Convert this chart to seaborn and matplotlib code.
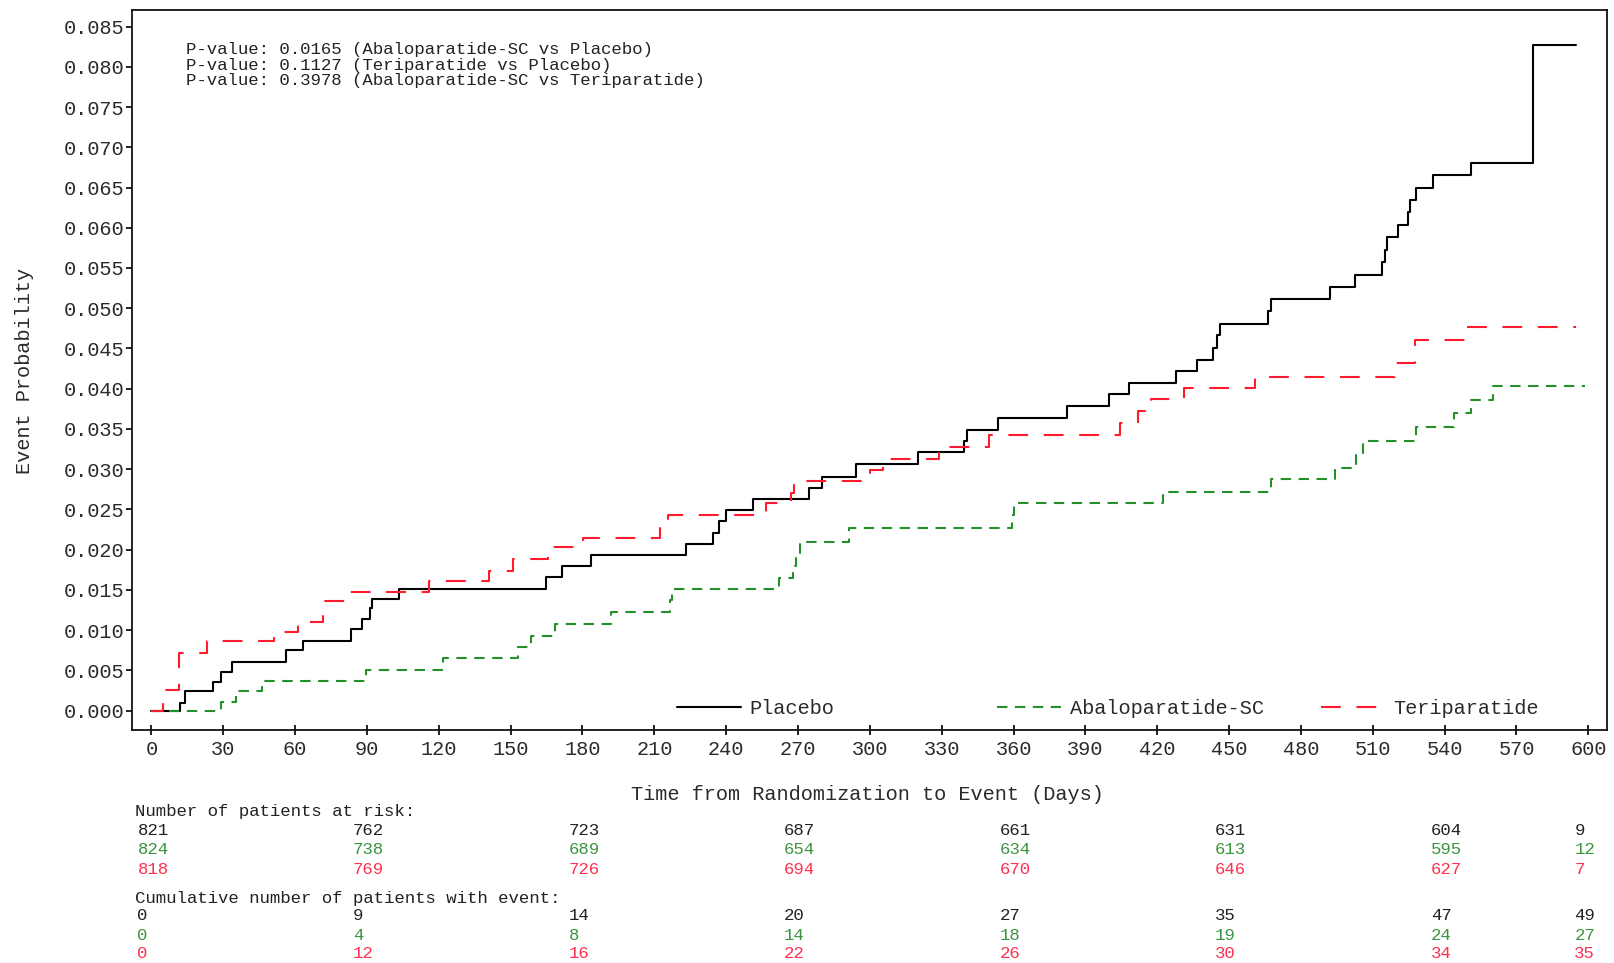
import numpy as np
import pandas as pd
import matplotlib
matplotlib.use("Agg")
import matplotlib.pyplot as plt
import seaborn as sns

# ---------------- data ----------------
placebo_days = [0, 12.1, 14.2, 25.8, 28.9, 33.7, 56.0, 63.3, 83.2, 88.0, 91.2, 92.0,
                103.3, 164.7, 171.3, 183.4, 223.3, 234.4, 236.9, 240.0, 251.0, 274.4,
                279.9, 294.4, 320.0, 339.2, 340.6, 353.5, 382.4, 399.8, 408.0, 427.8,
                436.7, 443.1, 444.8, 446.2, 466.3, 467.3, 492.1, 502.4, 513.7, 515.3,
                516.0, 520.6, 524.8, 525.5, 528.0, 535.2, 551.2, 576.7, 594.8]
placebo_prob = [0.0, 0.0010, 0.0024, 0.0036, 0.0048, 0.0061, 0.0075, 0.0087, 0.0101,
                0.0114, 0.0127, 0.0139, 0.0151, 0.0166, 0.0180, 0.0193, 0.0207, 0.0221,
                0.0235, 0.0249, 0.0263, 0.0276, 0.0290, 0.0306, 0.0321, 0.0335, 0.0349,
                0.0364, 0.0379, 0.0394, 0.0407, 0.0422, 0.0436, 0.0450, 0.0467, 0.0481,
                0.0496, 0.0512, 0.0527, 0.0541, 0.0557, 0.0572, 0.0588, 0.0603, 0.0619,
                0.0635, 0.0650, 0.0666, 0.0681, 0.0827, 0.0827]

abalo_days = [0, 28.9, 35.3, 46.2, 89.8, 121.6, 153.0, 158.3, 168.5, 191.9, 216.5,
              217.5, 262.0, 268.0, 269.0, 271.0, 291.3, 359.2, 360.0, 422.6, 467.6,
              494.2, 503.2, 506.0, 527.9, 543.9, 551.2, 560.0, 598.6]
abalo_prob = [0.0, 0.0011, 0.0024, 0.0037, 0.0050, 0.0065, 0.0079, 0.0093, 0.0108,
              0.0122, 0.0137, 0.0151, 0.0165, 0.0180, 0.0196, 0.0210, 0.0227, 0.0243,
              0.0258, 0.0272, 0.0288, 0.0302, 0.0318, 0.0335, 0.0353, 0.0370, 0.0386,
              0.0403, 0.0403]

teri_days = [0, 5.0, 11.6, 23.4, 51.4, 61.4, 71.6, 82.5, 116.0, 140.8, 151.0, 165.6,
             180.3, 212.3, 215.7, 256.8, 267.0, 268.5, 300.0, 305.5, 328.8, 349.6,
             404.5, 412.0, 417.5, 431.3, 460.8, 519.2, 527.6, 548.9, 594.8]
teri_prob = [0.0, 0.0025, 0.0072, 0.0086, 0.0098, 0.0110, 0.0136, 0.0148, 0.0161,
             0.0174, 0.0188, 0.0203, 0.0215, 0.0230, 0.0243, 0.0258, 0.0271, 0.0285,
             0.0299, 0.0313, 0.0327, 0.0342, 0.0358, 0.0372, 0.0387, 0.0401, 0.0414,
             0.0432, 0.0460, 0.0477, 0.0477]

group_names = ["Placebo", "Abaloparatide-SC", "Teriparatide"]

risk_times = [0, 90, 180, 270, 360, 450, 540, 600]
placebo_at_risk = [821, 762, 723, 687, 661, 631, 604, 9]
abalo_at_risk = [824, 738, 689, 654, 634, 613, 595, 12]
teri_at_risk = [818, 769, 726, 694, 670, 646, 627, 7]
placebo_cum_events = [0, 9, 14, 20, 27, 35, 47, 49]
abalo_cum_events = [0, 4, 8, 14, 18, 19, 24, 27]
teri_cum_events = [0, 12, 16, 22, 26, 30, 34, 35]

x_ticks = list(range(0, 601, 30))
y_ticks = [0.000, 0.005, 0.010, 0.015, 0.020, 0.025, 0.030, 0.035, 0.040,
           0.045, 0.050, 0.055, 0.060, 0.065, 0.070, 0.075, 0.080, 0.085]

p_value_lines = ["P-value: 0.0165 (Abaloparatide-SC vs Placebo)",
                 "P-value: 0.1127 (Teriparatide vs Placebo)",
                 "P-value: 0.3978 (Abaloparatide-SC vs Teriparatide)"]

x_label = "Time from Randomization to Event (Days)"
y_label = "Event Probability"
risk_header = "Number of patients at risk:"
cum_header = "Cumulative number of patients with event:"

# ---------------- styling ----------------
sns.set_style("ticks")
plt.rcParams["font.family"] = ["Liberation Mono", "DejaVu Sans Mono"]

col_black = "#000000"
col_green = "#23902A"
col_red = "#FF1A2E"
txt_green = "#3C9440"
txt_red = "#FF3050"
tick_col = "#2A2A2A"

fig = plt.figure(figsize=(16.15, 9.63), dpi=100)
ax = fig.add_axes([132 / 1615, 1 - 730 / 963, 1475 / 1615, 720 / 963])

curves = pd.concat([
    pd.DataFrame({"days": placebo_days, "prob": placebo_prob, "group": group_names[0]}),
    pd.DataFrame({"days": abalo_days, "prob": abalo_prob, "group": group_names[1]}),
    pd.DataFrame({"days": teri_days, "prob": teri_prob, "group": group_names[2]}),
], ignore_index=True)

styles = {
    group_names[0]: dict(color=col_black, linestyle="-"),
    group_names[1]: dict(color=col_green, linestyle=(0, (5.0, 3.6))),
    group_names[2]: dict(color=col_red, linestyle=(0, (9.5, 7.5))),
}

handles = []
for g in group_names:
    sub = curves[curves["group"] == g]
    sns.lineplot(data=sub, x="days", y="prob", ax=ax, drawstyle="steps-post",
                 estimator=None, sort=False, lw=1.5, legend=False, **styles[g])
    handles.append(ax.get_lines()[-1])

ax.set_xlim(-8.1, 607.8)
ax.set_ylim(-0.00241, 0.08706)
ax.set_xticks(x_ticks)
ax.set_yticks(y_ticks)
ax.set_yticklabels([f"{v:.3f}" for v in y_ticks])

for s in ax.spines.values():
    s.set_visible(True)
    s.set_linewidth(1.3)
    s.set_color("#111111")

ax.tick_params(axis="x", direction="inout", length=7, width=1.3, pad=4,
               labelsize=14.6, labelcolor=tick_col, color="#111111")
ax.tick_params(axis="y", direction="out", length=4, width=1.3, pad=1.5,
               labelsize=14.6, labelcolor=tick_col, color="#111111")

ax.set_xlabel(x_label, fontsize=14.6, color=tick_col)
ax.xaxis.set_label_coords(0.4983, (730 - 794) / 720)
ax.xaxis.label.set_va("center")
ax.set_ylabel(y_label, fontsize=14.6, color=tick_col)
ax.yaxis.set_label_coords((24.7 - 132) / 1475, 0.499)
ax.yaxis.label.set_va("center")

# p-value annotation
for i, line in enumerate(p_value_lines):
    ax.text(0.0369, 0.945 - i * 0.0215, line, transform=ax.transAxes,
            ha="left", va="center", fontsize=12.5, color="#222222")

# legend: three entries spread along the bottom of the plot area
leg_x = [0.3693, 0.5865, 0.8058]
for i, (h, g) in enumerate(zip(handles, group_names)):
    leg = ax.legend(handles=[h], labels=[g], loc="center left",
                    bbox_to_anchor=(leg_x[i], 0.0297), frameon=False,
                    borderpad=0, borderaxespad=0, handlelength=3.15,
                    handletextpad=0.45, fontsize=14.6, labelcolor=tick_col)
    if i < len(group_names) - 1:
        ax.add_artist(leg)

# risk table
fig.text(135 / 1615, 1 - 811.6 / 963, risk_header, ha="left", va="center",
         fontsize=12.5, color="#222222")
fig.text(135 / 1615, 1 - 898 / 963, cum_header, ha="left", va="center",
         fontsize=12.5, color="#222222")

rows = [
    (placebo_at_risk, 830.0, "#222222"),
    (abalo_at_risk, 849.8, txt_green),
    (teri_at_risk, 869.3, txt_red),
    (placebo_cum_events, 915.7, "#222222"),
    (abalo_cum_events, 935.2, txt_green),
    (teri_cum_events, 953.8, txt_red),
]
for values, ypix, c in rows:
    for t, n in zip(risk_times, values):
        ax.annotate(str(n), xy=(t, 1 - ypix / 963), xycoords=("data", "figure fraction"),
                    xytext=(-14, 0), textcoords="offset pixels", ha="left", va="center",
                    fontsize=12.5, color=c, annotation_clip=False)

fig.savefig("out.png", dpi=100, facecolor="white")
